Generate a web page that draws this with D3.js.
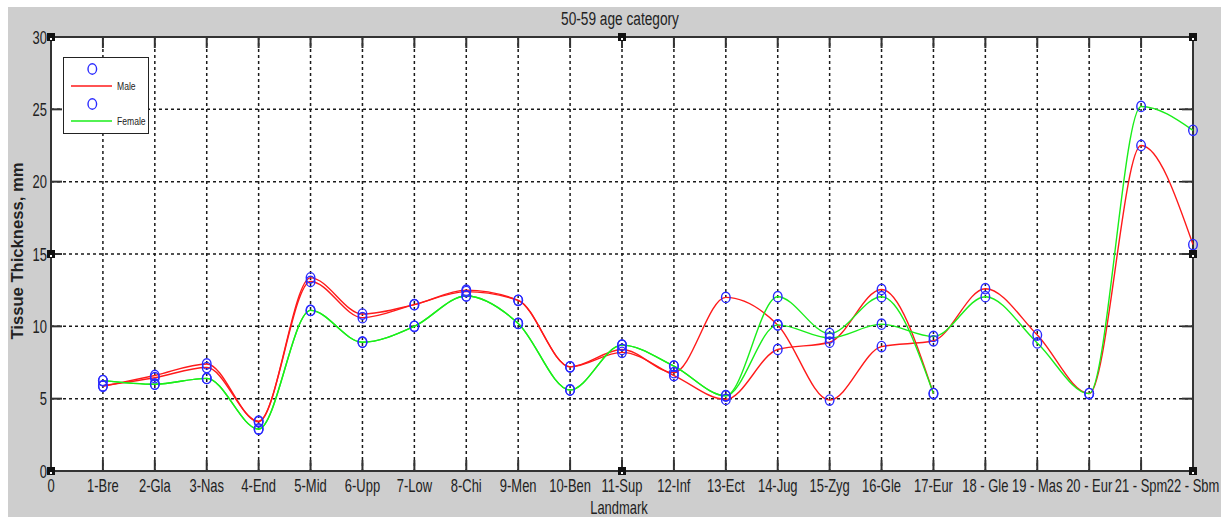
<!DOCTYPE html>
<html>
<head>
<meta charset="utf-8">
<script src="https://cdn.jsdelivr.net/npm/d3@7"></script>
<style>
  html, body { margin: 0; padding: 0; background: #ffffff; }
  svg { display: block; }
  text { font-family: "Liberation Sans", Arial, Helvetica, sans-serif; fill: #222; }
</style>
</head>
<body>
<svg id="chart" width="1226" height="519"></svg>
<script>
// Landmark names along the x axis (tick 0 .. 22)
const landmarks = ["0", "1-Bre", "2-Gla", "3-Nas", "4-End", "5-Mid", "6-Upp", "7-Low", "8-Chi",
  "9-Men", "10-Ben", "11-Sup", "12-Inf", "13-Ect", "14-Jug", "15-Zyg", "16-Gle", "17-Eur",
  "18 - Gle", "19 - Mas", "20 - Eur", "21 - Spm", "22 - Sbm"];

// Tissue thickness (mm), 50-59 age category; each run starts at landmark 1
const maleRunA = [5.9, 6.45, 7.15, 3.45, 13.1, 10.6, 11.5, 12.4, 11.8, 7.2, 8.4, 6.8,
  12.0, 10.1, 4.9, 8.6, 9.0, 12.6, 9.4, 5.35, 22.5, 15.65];
const maleRunB = [5.85, 6.6, 7.4, 3.4, 13.35, 10.85, 11.5, 12.5, 11.8, 7.2, 8.2, 6.6,
  4.95, 8.4, 8.9, 12.55, 5.35];
const femaleRunA = [6.25, 6.0, 6.4, 2.9, 11.1, 8.9, 10.0, 12.1, 10.2, 5.6, 8.7, 7.25,
  5.2, 12.05, 9.5, 12.05, 5.35];
const femaleRunB = [6.25, 6.0, 6.4, 2.9, 11.1, 8.9, 10.0, 12.1, 10.2, 5.6, 8.7, 7.25,
  5.2, 10.1, 9.2, 10.15, 9.3, 12.05, 8.85, 5.35, 25.2, 23.55];

const yTicks = [0, 5, 10, 15, 20, 25, 30];
const legendLabels = ["Male", "Female"];
const titleText = "50-59 age category";
const xTitle = "Landmark";
const yTitle = "Tissue Thickness, mm";

(function draw() {
  const svg = d3.select("#chart");
  const W = 1226, H = 519;
  const pL = 51, pR = 1193, pT = 37, pB = 471;
  const SX = 0.72; // condensed horizontal glyph scale

  const x = d3.scaleLinear().domain([0, 22]).range([pL, pR]);
  const y = d3.scaleLinear().domain([0, 30]).range([pB, pT]);

  // figure background
  svg.append("rect").attr("x", 0).attr("y", 0).attr("width", W).attr("height", H).attr("fill", "#fff");
  svg.append("rect").attr("x", 8).attr("y", 7).attr("width", 1213).attr("height", 510).attr("fill", "#cecece");

  // axes area
  svg.append("rect").attr("x", pL).attr("y", pT).attr("width", pR - pL).attr("height", pB - pT)
    .attr("fill", "#fff");

  // dotted grid
  const grid = svg.append("g").attr("stroke", "#1a1a1a").attr("stroke-width", 1.5).attr("stroke-dasharray", "3,3");
  d3.range(1, 22).forEach(i => {
    grid.append("line").attr("x1", x(i)).attr("x2", x(i)).attr("y1", pT).attr("y2", pB);
  });
  yTicks.filter(v => v > 0 && v < 30).forEach(v => {
    grid.append("line").attr("x1", pL).attr("x2", pR).attr("y1", y(v)).attr("y2", y(v));
  });

  // inward ticks on all four sides
  const tk = svg.append("g").attr("stroke", "#333").attr("stroke-width", 2);
  const tl = 11;
  d3.range(0, 23).forEach(i => {
    tk.append("line").attr("x1", x(i)).attr("x2", x(i)).attr("y1", pB).attr("y2", pB - tl);
    tk.append("line").attr("x1", x(i)).attr("x2", x(i)).attr("y1", pT).attr("y2", pT + tl);
  });
  yTicks.forEach(v => {
    tk.append("line").attr("x1", pL).attr("x2", pL + tl).attr("y1", y(v)).attr("y2", y(v));
    tk.append("line").attr("x1", pR).attr("x2", pR - tl).attr("y1", y(v)).attr("y2", y(v));
  });

  // axes box
  svg.append("rect").attr("x", pL).attr("y", pT).attr("width", pR - pL).attr("height", pB - pT)
    .attr("fill", "none").attr("stroke", "#333").attr("stroke-width", 2);

  // helper for condensed text
  function label(str, px, py, size, anchor) {
    return svg.append("text")
      .attr("transform", `translate(${px},${py}) scale(${SX},1)`)
      .attr("text-anchor", anchor || "middle")
      .attr("font-size", size)
      .text(str);
  }

  // tick labels
  landmarks.forEach((s, i) => label(s, x(i), 492, 18, "middle"));
  yTicks.forEach(v => label(String(v), 47, y(v) + 6.5, 18, "end"));

  // titles
  label(titleText, 620, 24.5, 19, "middle");
  label(xTitle, 619, 514, 18, "middle");
  svg.append("text")
    .attr("transform", `translate(23,251) rotate(-90)`)
    .attr("text-anchor", "middle")
    .attr("font-size", 16)
    .attr("font-weight", "bold")
    .attr("fill", "#333")
    .attr("textLength", 177)
    .attr("lengthAdjust", "spacingAndGlyphs")
    .text(yTitle);

  // shape-preserving curves through the points
  const lineGen = d3.line()
    .x((d, i) => x(i + 1))
    .y(d => y(d))
    .curve(d3.curveMonotoneX);

  const runs = [
    { data: maleRunB, color: "#ff1a1a" },
    { data: maleRunA, color: "#ff1a1a" },
    { data: femaleRunB, color: "#1aee1a" },
    { data: femaleRunA, color: "#1aee1a" }
  ];
  runs.forEach(r => {
    svg.append("path").attr("d", lineGen(r.data)).attr("fill", "none")
      .attr("stroke", r.color).attr("stroke-width", 1.4);
  });

  // markers
  runs.forEach(r => {
    svg.append("g").selectAll("ellipse").data(r.data).join("ellipse")
      .attr("cx", (d, i) => x(i + 1)).attr("cy", d => y(d))
      .attr("rx", 4.3).attr("ry", 5.2)
      .attr("fill", "none").attr("stroke", "#2a2aff").attr("stroke-width", 1.4);
  });

  // selection handles on the axes box
  const handles = [[pL, pT], [(pL + pR) / 2, pT], [pR, pT],
    [pL, (pT + pB) / 2], [pR, (pT + pB) / 2],
    [pL, pB], [(pL + pR) / 2, pB], [pR, pB]];
  handles.forEach(([hx, hy]) => {
    svg.append("rect").attr("x", hx - 4).attr("y", hy - 4).attr("width", 8).attr("height", 8).attr("fill", "#111");
    svg.append("rect").attr("x", hx - 1).attr("y", hy + 1).attr("width", 2).attr("height", 2).attr("fill", "#fff");
  });

  // legend
  const lg = svg.append("g");
  lg.append("rect").attr("x", 63.5).attr("y", 57.5).attr("width", 85).attr("height", 76)
    .attr("fill", "#fff").attr("stroke", "#222").attr("stroke-width", 1);
  const legendRows = [
    { name: legendLabels[0], color: "#ff1a1a", cy: 69, ly: 86 },
    { name: legendLabels[1], color: "#1aee1a", cy: 104, ly: 121 }
  ];
  legendRows.forEach(r => {
    lg.append("ellipse").attr("cx", 92.3).attr("cy", r.cy).attr("rx", 4.3).attr("ry", 5.2)
      .attr("fill", "none").attr("stroke", "#2a2aff").attr("stroke-width", 1.4);
    lg.append("line").attr("x1", 71).attr("x2", 112).attr("y1", r.ly).attr("y2", r.ly)
      .attr("stroke", r.color).attr("stroke-width", 1.4);
    lg.append("text").attr("transform", `translate(117,${r.ly + 4}) scale(0.78,1)`)
      .attr("font-size", 11).text(r.name);
  });
})();
</script>
</body>
</html>
